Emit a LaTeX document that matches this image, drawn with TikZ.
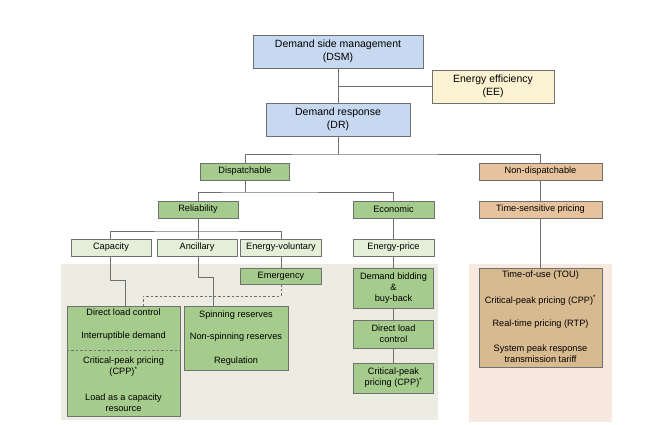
\documentclass[tikz,border=0pt]{standalone}
\usepackage{fontspec}
\setmainfont{Liberation Sans}
\definecolor{cblue}{HTML}{C6D9F1}
\definecolor{cee}{HTML}{FBF2D2}
\definecolor{cgreen}{HTML}{A6CC8D}
\definecolor{clgreen}{HTML}{E3EFD9}
\definecolor{cpeach}{HTML}{E7C39D}
\definecolor{cgraypanel}{HTML}{ECECE3}
\definecolor{cpeachpanel}{HTML}{F7E9E0}
\definecolor{ctan}{HTML}{D8BA90}
\definecolor{cline}{HTML}{707070}
\tikzset{
  box/.style={draw=cline, line width=0.9pt, inner sep=0pt, align=center, font=\fontsize{9.2}{11}\selectfont},
  bigbox/.style={box, font=\fontsize{10.5}{13.5}\selectfont},
  txt/.style={inner sep=0pt, align=center, font=\fontsize{9.2}{11}\selectfont},
  conn/.style={draw=cline, line width=0.9pt},
  dconn/.style={conn, dash pattern=on 2.5pt off 2pt},
}
\begin{document}
\begin{tikzpicture}[x=1pt,y=-1pt]
\useasboundingbox (0,0) rectangle (669,425);
% panels
\fill[cgraypanel] (61,264) rectangle (438,420);
\fill[cpeachpanel] (469,264) rectangle (612,422);
% top
\node[bigbox, fill=cblue, minimum width=170, minimum height=33] (dsm) at (338,51.5) {Demand side management\\(DSM)};
\node[bigbox, fill=cee, minimum width=122, minimum height=33] (ee) at (493,86.5) {Energy efficiency\\(EE)};
\node[bigbox, fill=cblue, minimum width=144, minimum height=33] (dr) at (338,119.5) {Demand response\\(DR)};
% level 2
\node[box, fill=cgreen, minimum width=89, minimum height=17] (disp) at (245,171.5) {Dispatchable};
\node[box, fill=cpeach, minimum width=123, minimum height=17] (ndisp) at (540.5,171.5) {Non-dispatchable};
% level 3
\node[box, fill=cgreen, minimum width=80, minimum height=17] (rel) at (198,209.5) {Reliability};
\node[box, fill=cgreen, minimum width=81, minimum height=17] (eco) at (393.5,209.5) {Economic};
\node[box, fill=cpeach, minimum width=123, minimum height=17] (tsp) at (540.5,209.5) {Time-sensitive pricing};
% level 4
\node[box, fill=clgreen, minimum width=80, minimum height=17] (cap) at (111,247.5) {Capacity};
\node[box, fill=clgreen, minimum width=80, minimum height=17] (anc) at (197,247.5) {Ancillary};
\node[box, fill=clgreen, minimum width=81, minimum height=17] (evol) at (281,247.5) {Energy-voluntary};
\node[box, fill=clgreen, minimum width=81, minimum height=17] (eprice) at (393.5,247.5) {Energy-price};
\node[box, fill=cgreen, minimum width=81, minimum height=16] (emer) at (281,276) {Emergency};
% bottom boxes
\node[box, fill=cgreen, minimum width=113, minimum height=110] (dlc) at (123.5,361) {};
\node[txt] (dlc1) at (123.5,312) {Direct load control};
\node[txt] (dlc2) at (123.5,336) {Interruptible demand};
\node[txt] (dlc3) at (123.5,367) {Critical-peak pricing\\(CPP)\textsuperscript{*}};
\node[txt] (dlc4) at (123.5,402.5) {Load as a capacity\\resource};
\draw[dconn] (dlc.west |- 0,350) -- (dlc.east |- 0,350);
\node[box, fill=cgreen, minimum width=104, minimum height=64] (spin) at (236,338) {};
\node[txt] (spin1) at (236,315) {Spinning reserves};
\node[txt] (spin2) at (236,337.5) {Non-spinning reserves};
\node[txt] (spin3) at (236,361) {Regulation};
\node[box, fill=cgreen, minimum width=80, minimum height=40] (dbid) at (393.5,288) {Demand bidding\\\&\\buy-back};
\node[box, fill=cgreen, minimum width=80, minimum height=28] (dlce) at (393.5,334) {Direct load\\control};
\node[box, fill=cgreen, minimum width=80, minimum height=30] (cppe) at (393.5,378) {Critical-peak\\pricing (CPP)\textsuperscript{*}};
\node[box, fill=ctan, minimum width=123, minimum height=99] (tou) at (540.5,317.5) {};
\node[txt] (tou1) at (540.5,275.5) {Time-of-use (TOU)};
\node[txt] (tou2) at (540.5,300) {Critical-peak pricing (CPP)\textsuperscript{*}};
\node[txt] (tou3) at (540.5,324) {Real-time pricing (RTP)};
\node[txt] (tou4) at (540.5,354) {System peak response\\transmission tariff};
% connectors
\coordinate (jee) at (338,86.5);
\draw[conn] (dsm.south) -- (dr.north);
\draw[conn] (jee) -- (ee.west);
\coordinate (j1) at (338,154);
\draw[conn] (dr.south) -- (j1);
\draw[conn] (disp.north) |- (j1) -| (ndisp.north);
\coordinate (j2) at (245,192);
\draw[conn] (disp.south) -- (j2);
\draw[conn] (rel.north) |- (j2) -| (eco.north);
\draw[conn] (ndisp.south) -- (tsp.north);
\coordinate (j3) at (198,231);
\draw[conn] (rel.south) -- (j3);
\draw[conn] (cap.north -| 110,0) |- (j3) -| (evol.north);
\draw[conn] (j3) -- (j3 |- anc.north);
\draw[conn] (evol.south) -- (emer.north);
\draw[conn] (eco.south) -- (eprice.north);
\draw[conn] (eprice.south) -- (dbid.north);
\draw[conn] (dbid.south) -- (dlce.north);
\draw[conn] (dlce.south) -- (cppe.north);
\draw[conn] (tsp.south) -- (tou.north);
\coordinate (c1) at (110,280);
\coordinate (c2) at (125,280);
\draw[conn] (cap.south -| c1) -- (c1) -- (c2) -- (c2 |- dlc.north);
\coordinate (a1) at (198,277);
\coordinate (a2) at (213,277);
\draw[conn] (anc.south -| a1) -- (a1) -- (a2) -- (a2 |- spin.north);
\coordinate (e1) at (281,296);
\coordinate (e2) at (143,296);
\draw[dconn] (emer.south) -- (e1) -- (e2) -- (e2 |- dlc.north);
\end{tikzpicture}
\end{document}
